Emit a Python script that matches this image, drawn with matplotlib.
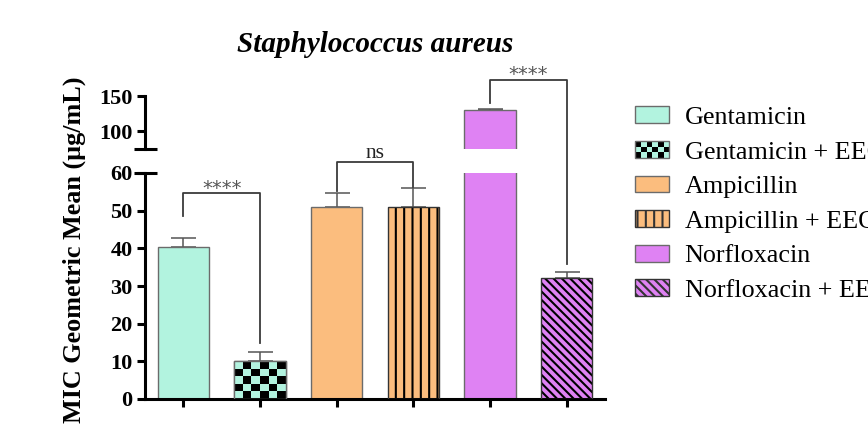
import numpy as np
import matplotlib
matplotlib.use("Agg")
import matplotlib.pyplot as plt
from matplotlib.patches import Rectangle
from matplotlib.colors import ListedColormap
from matplotlib.legend_handler import HandlerBase

# ---------------- data ----------------
categories = ["Gentamicin", "Gentamicin + EEO", "Ampicillin", "Ampicillin + EEO",
              "Norfloxacin", "Norfloxacin + EEO"]
means = [40.3, 10.0, 50.9, 50.9, 130.0, 32.0]
errors = [2.4, 2.5, 3.7, 5.0, 1.0, 1.7]
title = "Staphylococcus aureus"
ylabel = "MIC Geometric Mean (µg/mL)"
lower_ticks = [0, 10, 20, 30, 40, 50, 60]
upper_ticks = [100, 150]
# significance brackets: (left idx, right idx, label, top, left leg end, right leg end)
sig = [(0, 1, "****", 54.6, 48.5, 15.0),
       (2, 3, "ns", 63.0, 55.2, 56.4)]
sig_norf = (4, 5, "****", 173.0, 140.0, 35.8)

# ---------------- style ----------------
mint, orange, purple = "#b2f3df", "#fbbd7e", "#df82f3"
colors = [mint, mint, orange, orange, purple, purple]
hatches = [None, "checker", None, "||", None, "\\\\\\\\"]
edge = "#6b6b6b"
serif = "Liberation Serif"
plt.rcParams["font.family"] = [serif, "DejaVu Serif"]
plt.rcParams["hatch.linewidth"] = 1.5

fig = plt.figure(figsize=(8.68, 4.32), dpi=100)
L, R = 145 / 868, 605 / 868
ax_lo = fig.add_axes([L, 1 - 399 / 432, R - L, (399 - 173) / 432])
ax_hi = fig.add_axes([L, 1 - 149 / 432, R - L, (149 - 96) / 432])

x = np.arange(len(categories))
width = 0.67
xlim = (-0.5, 5.5)
TICK_FS = 16

for ax, ylim in ((ax_lo, (0, 60)), (ax_hi, (75, 150))):
    for i in range(len(categories)):
        if ax is ax_hi and means[i] <= ylim[0]:
            continue
        h = hatches[i]
        if h == "checker":
            bars = ax.bar(x[i], means[i], width, color=colors[i], edgecolor=edge,
                          linewidth=1.0, zorder=2)
            p = bars[0]
            nrow = max(1, int(round(means[i] / 2.0)))
            ncol = 6
            chk = (np.add.outer(np.arange(nrow), np.arange(ncol)) % 2)
            im = ax.imshow(chk, extent=(x[i] - width / 2, x[i] + width / 2, 0, means[i]),
                           cmap=ListedColormap([colors[i], "black"]), aspect="auto",
                           interpolation="nearest", origin="lower", zorder=2.5)
            im.set_clip_path(p)
            ax.bar(x[i], means[i], width, fill=False, edgecolor=edge, linewidth=1.0, zorder=3)
        elif h is not None:
            ax.bar(x[i], means[i], width, color=colors[i], edgecolor="black",
                   linewidth=0, hatch=h, zorder=2)
            ax.bar(x[i], means[i], width, fill=False, edgecolor="#333333",
                   linewidth=1.0, zorder=3)
        else:
            ax.bar(x[i], means[i], width, color=colors[i], edgecolor=edge,
                   linewidth=1.0, zorder=2)
    ax.errorbar(x, means, yerr=[np.zeros(len(x)), errors], fmt="none",
                ecolor="#555555", elinewidth=1.1, capsize=9, capthick=1.1, zorder=1.5)
    ax.set_xlim(*xlim)
    ax.set_ylim(*ylim)
    for s in ("top", "right"):
        ax.spines[s].set_visible(False)
    ax.spines["left"].set_linewidth(2.2)
    ax.tick_params(axis="y", width=2.2, length=6, pad=3, labelsize=TICK_FS)

ax_lo.set_yticks(lower_ticks)
ax_lo.set_yticklabels([str(v) for v in lower_ticks], fontweight="bold", fontsize=TICK_FS)
ax_lo.set_xticks(x)
ax_lo.set_xticklabels([])
ax_lo.tick_params(axis="x", width=2.2, length=6)
ax_lo.spines["bottom"].set_linewidth(2.2)

ax_hi.set_yticks(upper_ticks)
ax_hi.set_yticklabels([str(v) for v in upper_ticks], fontweight="bold", fontsize=TICK_FS)
ax_hi.spines["bottom"].set_visible(False)
ax_hi.set_xticks([])
ax_hi.patch.set_alpha(0)

# break markers
for ax, yy in ((ax_hi, 0.0), (ax_lo, 1.0)):
    ax.plot([-0.025, 0.025], [yy, yy], transform=ax.transAxes, color="black",
            lw=2.2, clip_on=False, solid_capstyle="butt")

# significance brackets
bc = "#3a3a3a"
def label(xm, y, lab):
    if lab == "ns":
        ax_lo.annotate(lab, (xm, y), xytext=(0, 6), textcoords="offset points",
                       ha="center", va="center", fontsize=15.5, color="#222222",
                       annotation_clip=False)
    else:
        ax_lo.annotate(lab, (xm, y), xytext=(0, 3.5), textcoords="offset points",
                       ha="center", va="center", fontsize=14, color="#555555",
                       family="DejaVu Sans", annotation_clip=False)

for a, b, lab, top, la, lb in sig:
    ax_lo.plot([x[a], x[a], x[b], x[b]], [la, top, top, lb], color=bc, lw=1.3,
               clip_on=False, zorder=4)
    label((x[a] + x[b]) / 2, top, lab)

a, b, lab, top, la, lb = sig_norf
def hi_to_lo(xv, yv):
    d = ax_hi.transData.transform((xv, yv))
    return ax_lo.transData.inverted().transform(d)[1]
ytop = hi_to_lo(x[a], top)
yla = hi_to_lo(x[a], la)
ax_lo.plot([x[a], x[a], x[b], x[b]], [yla, ytop, ytop, lb], color=bc, lw=1.3,
           clip_on=False, zorder=4)
label((x[a] + x[b]) / 2, ytop, lab)

# title & ylabel
fig.text((L + R) / 2, 1 - 45 / 432, title, ha="center", va="center",
         fontsize=21, fontweight="bold", fontstyle="italic")
fig.text(74 / 868, 1 - 250 / 432, ylabel, ha="center", va="center", rotation=90,
         fontsize=18.8, fontweight="bold")

# legend
class CheckerHandler(HandlerBase):
    def create_artists(self, legend, orig_handle, xdescent, ydescent, width, height,
                       fontsize, trans):
        arts = [Rectangle((-xdescent, -ydescent), width, height, facecolor=mint,
                          edgecolor="none", transform=trans)]
        nx, ny = 6, 3
        cw, chh = width / nx, height / ny
        for i in range(nx):
            for j in range(ny):
                if (i + j) % 2 == 0:
                    arts.append(Rectangle((-xdescent + i * cw, -ydescent + j * chh), cw, chh,
                                          facecolor="black", edgecolor="none", transform=trans))
        arts.append(Rectangle((-xdescent, -ydescent), width, height, fill=False,
                              edgecolor=edge, lw=1.0, transform=trans))
        return arts

handles = []
for i in range(len(categories)):
    h = hatches[i]
    if h == "checker":
        handles.append(Rectangle((0, 0), 1, 1, facecolor=mint))
    elif h is not None:
        handles.append(Rectangle((0, 0), 1, 1, facecolor=colors[i], edgecolor="#333333",
                                 hatch=h, lw=1.0))
    else:
        handles.append(Rectangle((0, 0), 1, 1, facecolor=colors[i], edgecolor=edge, lw=1.0))

leg = fig.legend(handles, categories, loc="upper left",
                 bbox_to_anchor=(625 / 868, 1 - 96 / 432), frameon=False,
                 fontsize=18.8, handlelength=1.3, handleheight=0.61,
                 handletextpad=0.58, labelspacing=0.46, borderaxespad=0,
                 handler_map={handles[1]: CheckerHandler()})

fig.savefig("out.png", dpi=100, facecolor="white")
